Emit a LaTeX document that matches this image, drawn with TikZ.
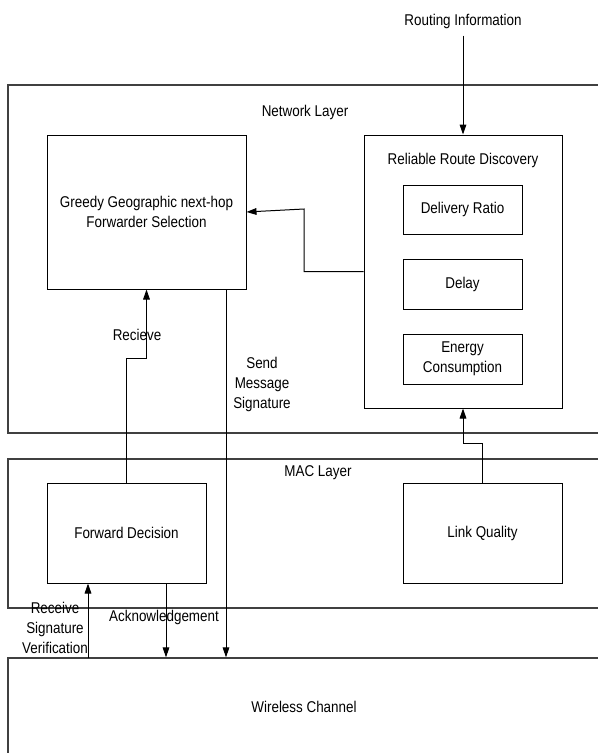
\documentclass[tikz,border=0pt]{standalone}
\usepackage{fontspec}
\setmainfont{Liberation Sans}[FakeStretch=0.86]
\usetikzlibrary{arrows.meta,fit}
\begin{document}
\begin{tikzpicture}[x=0.75pt,y=-0.75pt,
  every node/.style={font=\fontsize{11.7}{15}\selectfont},
  layerbox/.style={draw=black!75,line width=1pt,inner sep=0pt},
  blockbox/.style={draw=black,line width=0.75pt,inner sep=0pt,align=center},
  lbl/.style={inner sep=0pt,align=center},
  arr/.style={draw=black,line width=0.75pt,-{Triangle[length=7.5pt,width=5pt]}},
  wire/.style={draw=black,line width=0.75pt}]
\clip (0,0) rectangle (598,753);
\fill[white] (0,0) rectangle (598,753);

% layers (open towards the right edge)
\node[layerbox,fit={(8,85) (640,433)}] (netlayer) {};
\node[layerbox,fit={(8,459) (640,608)}] (maclayer) {};
\node[layerbox,fit={(8,658) (640,790)}] (wireless) {};
\node[lbl] (netlbl) at (305,112) {Network Layer};
\node[lbl] (maclbl) at (318,473) {MAC Layer};
\node[lbl] (wirelbl) at (304,707) {Wireless Channel};

% network layer blocks
\node[blockbox,fit={(47,135) (246,289)}] (greedy) {};
\node[lbl] at (greedy.center) {Greedy Geographic next-hop\\Forwarder Selection};
\node[blockbox,fit={(364,135) (562,408)}] (reliable) {};
\node[lbl] (reltitle) at (463,160) {Reliable Route Discovery};
\node[blockbox,fit={(403,185) (522,234)}] (delivery) {};
\node[lbl] at (delivery.center) {Delivery Ratio};
\node[blockbox,fit={(403,259) (522,309)}] (delay) {};
\node[lbl] at (delay.center) {Delay};
\node[blockbox,fit={(403,334) (522,384)}] (energy) {};
\node[lbl] at (energy.center) {Energy\\Consumption};

% MAC layer blocks
\node[blockbox,fit={(47,483) (206,583)}] (forward) {};
\node[lbl] at (forward.center) {Forward Decision};
\node[blockbox,fit={(403,483) (562,583)}] (link) {};
\node[lbl] at (link.center) {Link Quality};

% routing input
\node[lbl] (routing) at (463,21) {Routing Information};
\draw[arr] (routing.south) ++(0,7) -- (reliable.north);

% connectors
\draw[arr] (reliable.west) -| (304,209) -- (greedy.east);
\draw[arr] (forward.north) -- ++(0,-124) -| (greedy.south);
\draw[arr] (link.north) -- ++(0,-39) -| (reliable.south);

\coordinate (sendtop) at (226,289);
\draw[arr] (sendtop) -- (sendtop |- wireless.north);
\coordinate (rsv) at (88,658);
\draw[arr] (rsv) -- (rsv |- forward.south);
\coordinate (ack) at (166,583);
\draw[arr] (ack) -- (ack |- wireless.north);

% connector labels
\node[lbl] (recvlbl) at (137,335) {Recieve};
\node[lbl] (sendlbl) at (262,384) {Send\\Message\\Signature};
\node[lbl] (rsvlbl) at (55,628) {Receive\\Signature\\Verification};
\node[lbl] (acklbl) at (164,617) {Acknowledgement};
\end{tikzpicture}
\end{document}
